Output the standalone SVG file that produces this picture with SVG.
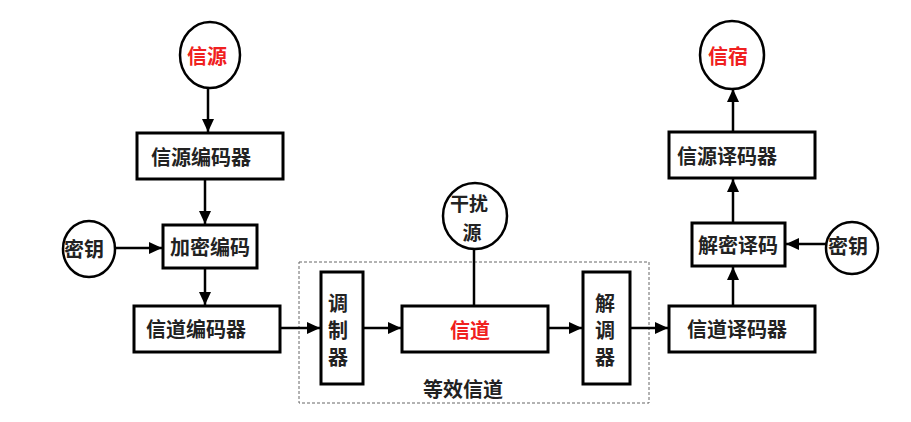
<svg xmlns="http://www.w3.org/2000/svg" width="911" height="422" viewBox="0 0 911 422">
<defs>
<marker id="arr" markerUnits="userSpaceOnUse" markerWidth="13" markerHeight="12" refX="13" refY="6" orient="auto">
<path d="M0,0 L13,6 L0,12 Z" fill="#000"/>
</marker>
<style>
.box{fill:#fff;stroke:#000;stroke-width:3}
.cir{fill:#fff;stroke:#000;stroke-width:2.5}
.t{font-family:"Noto Sans CJK SC","Noto Sans",sans-serif;font-size:20px;font-weight:bold;fill:#222;text-anchor:middle;dominant-baseline:central}
.red{fill:#f02020;font-size:20px}
.sm{font-size:19px}
.c{stroke:#000;stroke-width:2.5;fill:none}
.a{marker-end:url(#arr)}
</style>
</defs>
<rect width="911" height="422" fill="#fff"/>
<g id="equiv">
<rect x="299" y="262" width="350" height="141" fill="none" stroke="#666" stroke-width="1" stroke-dasharray="3,2"/>
<text class="t" x="463" y="388">等效信道</text>
</g>
<g id="connectors">
<line class="c a" x1="208" y1="89" x2="208" y2="132"/>
<line class="c a" x1="205" y1="179" x2="205" y2="224"/>
<line class="c a" x1="115" y1="248" x2="162" y2="248"/>
<line class="c a" x1="205" y1="268" x2="205" y2="305"/>
<line class="c a" x1="280" y1="328" x2="320" y2="328"/>
<line class="c a" x1="363" y1="328" x2="401" y2="328"/>
<line class="c" x1="474" y1="250" x2="474" y2="306"/>
<line class="c a" x1="548" y1="328" x2="582" y2="328"/>
<line class="c a" x1="630" y1="328" x2="668" y2="328"/>
<line class="c a" x1="733" y1="306" x2="733" y2="267"/>
<line class="c a" x1="827" y1="244" x2="786" y2="244"/>
<line class="c a" x1="733" y1="223" x2="733" y2="179"/>
<line class="c a" x1="733" y1="132" x2="733" y2="89"/>
</g>
<g id="source">
<ellipse class="cir" cx="210" cy="55" rx="30" ry="33"/>
<text class="t red" x="207" y="55">信源</text>
</g>
<g id="source-encoder">
<rect class="box" x="137" y="133" width="146" height="46"/>
<text class="t" x="201" y="156">信源编码器</text>
</g>
<g id="key-left">
<ellipse class="cir" cx="89" cy="249" rx="26" ry="28"/>
<text class="t" x="84" y="248">密钥</text>
</g>
<g id="encrypt">
<rect class="box" x="163" y="225" width="94" height="43"/>
<text class="t" x="210" y="246">加密编码</text>
</g>
<g id="channel-encoder">
<rect class="box" x="134" y="306" width="146" height="46"/>
<text class="t" x="196" y="328">信道编码器</text>
</g>
<g id="modulator">
<rect class="box" x="321" y="272" width="42" height="112"/>
<text class="t" x="338" y="302">调</text>
<text class="t" x="338" y="329">制</text>
<text class="t" x="338" y="356">器</text>
</g>
<g id="noise">
<ellipse class="cir" cx="475" cy="216" rx="32" ry="33"/>
<text class="t sm" x="469" y="202">干扰</text>
<text class="t sm" x="472" y="231">源</text>
</g>
<g id="channel">
<rect class="box" x="402" y="306" width="146" height="46"/>
<text class="t red" x="470" y="329">信道</text>
</g>
<g id="demodulator">
<rect class="box" x="583" y="272" width="47" height="112"/>
<text class="t" x="605" y="302">解</text>
<text class="t" x="605" y="329">调</text>
<text class="t" x="605" y="356">器</text>
</g>
<g id="channel-decoder">
<rect class="box" x="669" y="306" width="146" height="46"/>
<text class="t" x="737" y="328">信道译码器</text>
</g>
<g id="decrypt">
<rect class="box" x="692" y="223" width="93" height="43"/>
<text class="t" x="738" y="244">解密译码</text>
</g>
<g id="key-right">
<ellipse class="cir" cx="852" cy="248" rx="26" ry="26"/>
<text class="t" x="848" y="245">密钥</text>
</g>
<g id="source-decoder">
<rect class="box" x="669" y="132" width="146" height="46"/>
<text class="t" x="727" y="155">信源译码器</text>
</g>
<g id="sink">
<ellipse class="cir" cx="732" cy="55" rx="32" ry="34"/>
<text class="t red" x="728" y="55">信宿</text>
</g>
</svg>
